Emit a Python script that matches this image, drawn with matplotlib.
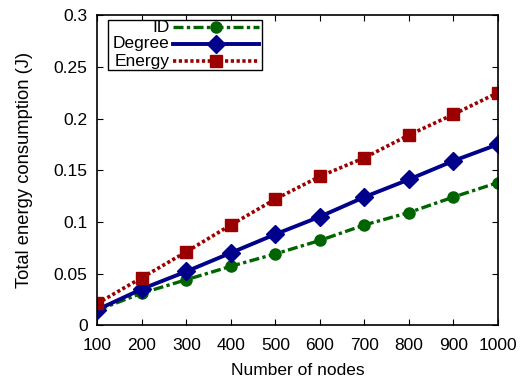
import matplotlib
matplotlib.use("Agg")
import matplotlib.pyplot as plt
from matplotlib.lines import Line2D
from matplotlib.patches import Rectangle

nodes = [100, 200, 300, 400, 500, 600, 700, 800, 900, 1000]
id_vals = [0.0145, 0.031, 0.044, 0.057, 0.069, 0.082, 0.097, 0.109, 0.124, 0.138]
degree_vals = [0.015, 0.035, 0.052, 0.070, 0.088, 0.105, 0.124, 0.141, 0.159, 0.175]
energy_vals = [0.021, 0.046, 0.071, 0.097, 0.122, 0.144, 0.162, 0.184, 0.204, 0.225]
series_names = ['ID', 'Degree', 'Energy']
xticks = [100, 200, 300, 400, 500, 600, 700, 800, 900, 1000]
yticks = [0, 0.05, 0.1, 0.15, 0.2, 0.25, 0.3]
ytick_labels = ["0", "0.05", "0.1", "0.15", "0.2", "0.25", "0.3"]

plt.rcParams['font.family'] = ['Liberation Sans', 'DejaVu Sans']
fig = plt.figure(figsize=(5.32, 3.79), dpi=100)
ax = fig.add_axes([0.183, 0.142, 0.753, 0.818])

styles = [
    dict(color='#006400', linestyle=(0, (3, 1, 1, 1)), linewidth=2.4, marker='o', markersize=8),
    dict(color='#00008b', linestyle='-', linewidth=2.8, marker='D', markersize=9),
    dict(color='#9b0000', linestyle=(0, (0.9, 0.7)), linewidth=2.6, marker='s', markersize=8),
]
for vals, st, name in zip([id_vals, degree_vals, energy_vals], styles, series_names):
    ax.plot(nodes, vals, label=name, **st)

ax.set_xlim(100, 1000)
ax.set_ylim(0, 0.3)
ax.set_xticks(xticks)
ax.set_yticks(yticks)
ax.set_yticklabels(ytick_labels)
ax.tick_params(direction='in', top=True, right=True, labelsize=12.5, length=4, width=0.8)
ax.tick_params(axis='x', pad=9)
ax.tick_params(axis='y', pad=7)
ax.set_xlabel('Number of nodes', fontsize=12.5, labelpad=7.5)
ax.set_ylabel('Total energy consumption (J)', fontsize=13.2, labelpad=15)
for s in ax.spines.values():
    s.set_linewidth(1.2)

# legend drawn in axes coordinates
ax.add_patch(Rectangle((0.027, 0.823), 0.383, 0.161, transform=ax.transAxes,
                       fill=True, facecolor='white', edgecolor='black', linewidth=1.0, zorder=5))
rows_y = [0.961, 0.907, 0.852]
for name, st, yy in zip(series_names, styles, rows_y):
    ax.text(0.180, yy, name, transform=ax.transAxes, ha='right', va='center',
            fontsize=12.5, zorder=6)
    ax.add_line(Line2D([0.189, 0.403], [yy, yy], transform=ax.transAxes,
                       color=st['color'], linestyle=st['linestyle'], linewidth=st['linewidth'], zorder=6))
    ax.add_line(Line2D([0.296], [yy], transform=ax.transAxes, color=st['color'],
                       marker=st['marker'], markersize=st['markersize'], linestyle='none', zorder=7))

fig.savefig('out.png', dpi=100)
